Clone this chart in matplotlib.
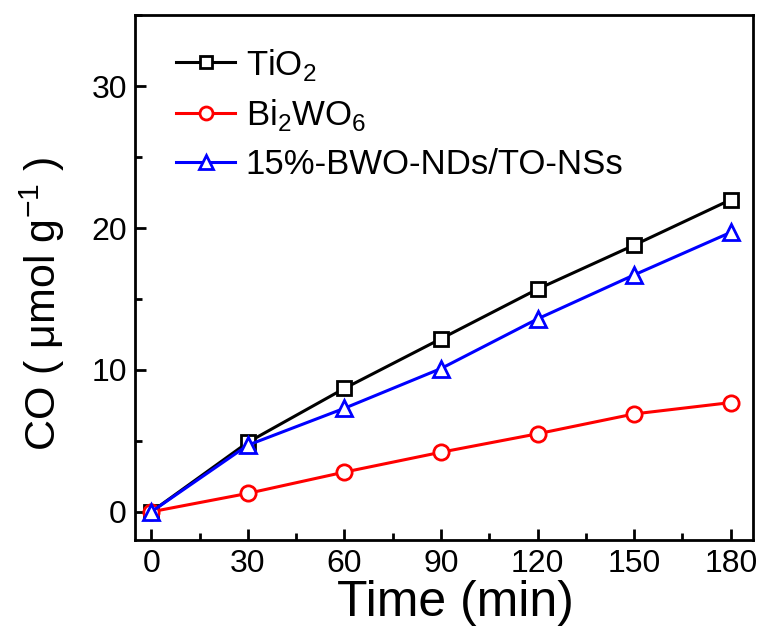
import matplotlib
matplotlib.use("Agg")
import matplotlib.pyplot as plt
from matplotlib.ticker import MultipleLocator

plt.rcParams['font.family'] = ['Liberation Sans', 'DejaVu Sans']
plt.rcParams['mathtext.fontset'] = 'custom'
plt.rcParams['mathtext.rm'] = 'Liberation Sans'

# data
time = [0, 30, 60, 90, 120, 150, 180]
tio2 = [0, 4.9, 8.7, 12.2, 15.7, 18.8, 22.0]
bi2wo6 = [0, 1.3, 2.8, 4.2, 5.5, 6.9, 7.7]
composite = [0, 4.7, 7.3, 10.1, 13.6, 16.7, 19.7]
labels = [r'TiO$_\mathregular{2}$', r'Bi$_\mathregular{2}$WO$_\mathregular{6}$', '15%-BWO-NDs/TO-NSs']

fig = plt.figure(figsize=(7.64, 6.37), dpi=100)
ax = fig.add_axes([0.177, 0.152, 0.809, 0.824])

ax.plot(time, tio2, color='black', lw=2.2, marker='s', ms=10, mfc='white', mew=2, label=labels[0])
ax.plot(time, bi2wo6, color='red', lw=2.2, marker='o', ms=11, mfc='white', mew=2, label=labels[1])
ax.plot(time, composite, color='blue', lw=2.2, marker='^', ms=12, mfc='white', mew=2, label=labels[2])

ax.set_xlim(-5, 187)
ax.set_ylim(-2, 35)
ax.set_xticks(time)
ax.set_yticks([0, 10, 20, 30])
ax.xaxis.set_minor_locator(MultipleLocator(15))
ax.yaxis.set_minor_locator(MultipleLocator(5))
ax.tick_params(which='both', direction='in', top=False, right=False, width=2)
ax.tick_params(which='major', length=8, labelsize=23, pad=6)
ax.tick_params(which='minor', length=5)
for s in ax.spines.values():
    s.set_linewidth(2)

ax.set_xlabel('Time (min)', fontsize=36)
ax.xaxis.set_label_coords(0.518, -0.075)
ax.set_ylabel(r'CO ( $\mathregular{\mu}$mol g$^\mathregular{-1}$ )', fontsize=31)
ax.yaxis.set_label_coords(-0.11, 0.45)

ax.legend(loc='upper left', bbox_to_anchor=(0.016, 1.0), frameon=False, fontsize=25,
          handlelength=1.7, handletextpad=0.3, labelspacing=0.42, borderaxespad=0.5,
          markerscale=0.85)

fig.savefig('out.png', dpi=100)
